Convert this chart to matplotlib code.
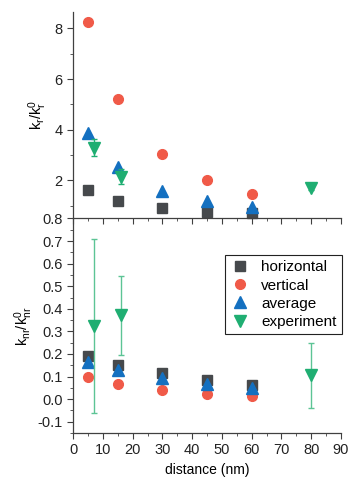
import numpy as np
import matplotlib
matplotlib.use("Agg")
import matplotlib.pyplot as plt
from matplotlib.ticker import MultipleLocator

plt.rcParams['font.family'] = ['Liberation Sans', 'DejaVu Sans']
plt.rcParams['mathtext.fontset'] = 'custom'
plt.rcParams['mathtext.rm'] = 'Liberation Sans'
plt.rcParams['mathtext.it'] = 'Liberation Sans'

# distances
dist = [5, 15, 30, 45, 60]
exp_dist = [7, 16, 80]

# radiative rate ratio k_r / k_r^0
kr_horizontal = [1.62, 1.2, 0.9, 0.75, 0.7]
kr_vertical = [8.24, 5.2, 3.04, 2.02, 1.48]
kr_average = [3.86, 2.55, 1.6, 1.2, 0.95]
kr_exp = [3.3, 2.15, 1.72]
kr_exp_err = [0.33, 0.3, 0.1]

# non-radiative rate ratio k_nr / k_nr^0
knr_horizontal = [0.19, 0.15, 0.116, 0.087, 0.062]
knr_vertical = [0.097, 0.068, 0.042, 0.023, 0.013]
knr_average = [0.165, 0.128, 0.094, 0.068, 0.05]
knr_exp = [0.325, 0.372, 0.105]
knr_exp_err = [0.385, 0.175, 0.145]

c_h = '#46494c'
c_v = '#f05a48'
c_a = '#1470c0'
c_e = '#1fae72'
spine = '#404040'

fig = plt.figure(figsize=(3.5, 4.78), dpi=100)
ax2 = fig.add_axes([0.209, 0.094, 0.765, 0.449])
ax1 = fig.add_axes([0.209, 0.543, 0.765, 0.432])
ax2.patch.set_visible(False)
ax1.patch.set_visible(False)

def style(ax):
    for s in ['top', 'right']:
        ax.spines[s].set_visible(False)
    for s in ['left', 'bottom']:
        ax.spines[s].set_color(spine)
        ax.spines[s].set_linewidth(0.9)
    ax.tick_params(which='both', direction='out', colors=spine, labelcolor='#222222',
                   labelsize=10.5)
    ax.tick_params(which='major', length=4)
    ax.tick_params(which='minor', length=2.5)
    ax.set_xlim(0, 90)
    ax.xaxis.set_major_locator(MultipleLocator(10))
    ax.xaxis.set_minor_locator(MultipleLocator(5))

ax1.plot(dist, kr_horizontal, 's', color=c_h, ms=6.5, ls='none', clip_on=False)
ax1.plot(dist, kr_vertical, 'o', color=c_v, ms=7, ls='none')
ax1.plot(dist, kr_average, '^', color=c_a, ms=8, ls='none')
ax1.errorbar(exp_dist, kr_exp, yerr=kr_exp_err, fmt='none', ecolor=c_e,
             capsize=2.5, elinewidth=1, capthick=1)
ax1.plot(exp_dist, kr_exp, 'v', color=c_e, ms=8, ls='none')
style(ax1)
ax1.set_ylim(0.5, 8.65)
ax1.yaxis.set_minor_locator(MultipleLocator(1))
ax1.set_yticks([2, 4, 6, 8])
ax1.tick_params(axis='x', labelbottom=False)
ax1.set_ylabel(r'$\mathregular{k_r/k_r^0}$', fontsize=10.5, labelpad=4)

ax2.plot(dist, knr_horizontal, 's', color=c_h, ms=6.5, ls='none', label='horizontal')
ax2.plot(dist, knr_vertical, 'o', color=c_v, ms=7, ls='none', label='vertical')
ax2.plot(dist, knr_average, '^', color=c_a, ms=8, ls='none', label='average')
ax2.errorbar(exp_dist, knr_exp, yerr=knr_exp_err, fmt='none', ecolor='#5cc495',
             capsize=2.5, elinewidth=1, capthick=1)
ax2.plot(exp_dist, knr_exp, 'v', color=c_e, ms=8, ls='none', label='experiment')
style(ax2)
ax2.set_ylim(-0.15, 0.8)
ticks = np.round(np.arange(-0.1, 0.81, 0.1), 1)
ax2.set_yticks(ticks)
ax2.set_yticklabels([f'{v:.1f}' for v in ticks])
ax2.yaxis.set_minor_locator(MultipleLocator(0.05))
ax2.set_ylabel(r'$\mathregular{k_{nr}/k_{nr}^0}$', fontsize=10.5, labelpad=2)
ax2.set_xlabel('distance (nm)', fontsize=10, labelpad=4)

leg = ax2.legend(loc='upper right', bbox_to_anchor=(1.003, 0.83), borderaxespad=0,
                 fontsize=11, frameon=True, fancybox=False, edgecolor='#222222',
                 framealpha=1, handletextpad=0.7, borderpad=0.35, labelspacing=0.28,
                 handlelength=1.3)
leg.get_frame().set_linewidth(0.8)

fig.savefig('out.png', dpi=100)
